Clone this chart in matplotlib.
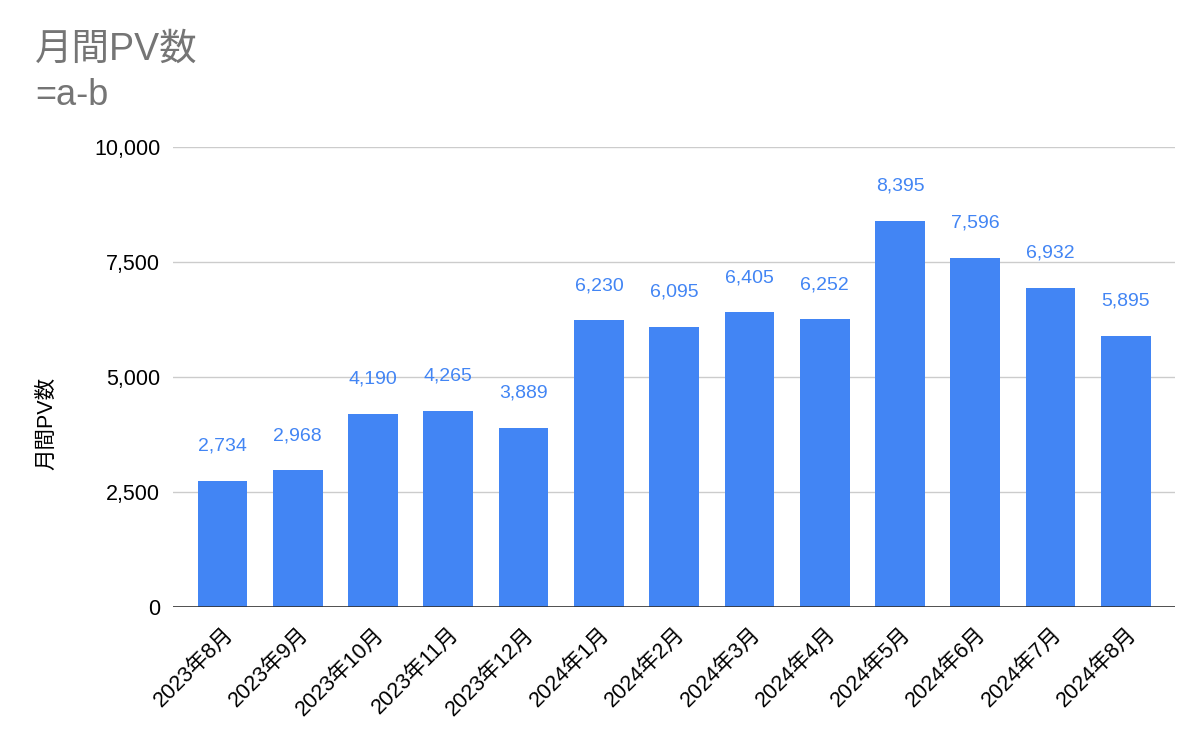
import numpy as np
import matplotlib
matplotlib.use("Agg")
import matplotlib.pyplot as plt

plt.rcParams['font.family'] = ['Liberation Sans', 'Noto Sans CJK JP', 'DejaVu Sans']

months = ["2023年8月", "2023年9月", "2023年10月", "2023年11月", "2023年12月",
          "2024年1月", "2024年2月", "2024年3月", "2024年4月", "2024年5月",
          "2024年6月", "2024年7月", "2024年8月"]
pv = [2734, 2968, 4190, 4265, 3889, 6230, 6095, 6405, 6252, 8395, 7596, 6932, 5895]
yticks = [0, 2500, 5000, 7500, 10000]

blue = "#4285F4"

fig = plt.figure(figsize=(12, 7.32), dpi=100)
ax = fig.add_axes([0.144, 0.171, 0.835, 0.628])

x = np.arange(len(months))
ax.bar(x, pv, width=0.66, color=blue, zorder=3)
for xi, v in zip(x, pv):
    ax.annotate(f"{v:,}", (xi, v), xytext=(0, 19), textcoords="offset points",
                ha="center", va="bottom", color=blue, fontsize=14)

ax.set_xlim(-0.66, len(months) - 1 + 0.65)
ax.set_ylim(0, 10000)
ax.set_yticks(yticks)
ax.set_yticklabels([f"{t:,}" for t in yticks], fontsize=15.5)
ax.grid(axis="y", color="#cccccc", linewidth=1, zorder=0)
ax.axhline(0, color="#333333", linewidth=1.2, zorder=4)
ax.set_xticks(x)
ax.set_xticklabels(months, rotation=45, ha="right", rotation_mode="anchor", fontsize=15.5)
ax.tick_params(axis="both", length=0, pad=9)
ax.tick_params(axis="x", pad=12)
for s in ax.spines.values():
    s.set_visible(False)

ax.set_ylabel("月間PV数", fontsize=15.5)
ax.yaxis.set_label_coords(-0.115, 0.40)
fig.text(0.029, 0.957, "月間PV数", color="#757575", fontsize=27,
         ha="left", va="top")
fig.text(0.029, 0.893, "=a-b", color="#757575", fontsize=26,
         ha="left", va="top")

fig.savefig("out.png", dpi=100)
